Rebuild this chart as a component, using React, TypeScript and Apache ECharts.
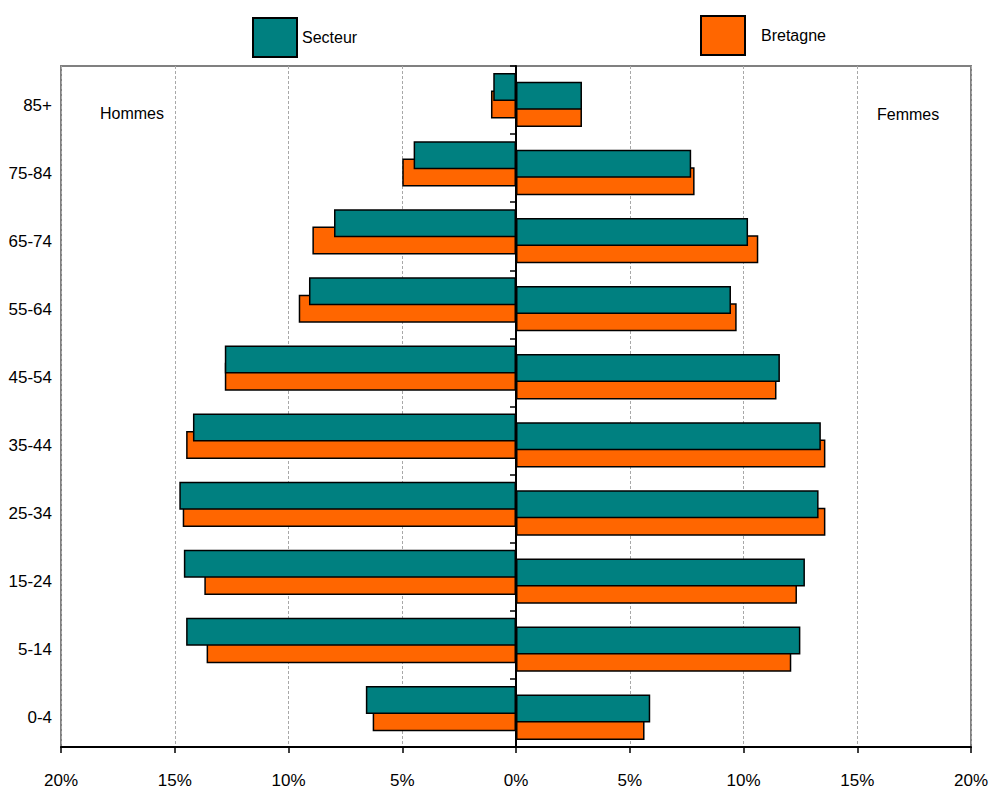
import React, { useEffect, useRef } from "react";
import * as echarts from "echarts";

const categories = ["0-4", "5-14", "15-24", "25-34", "35-44", "45-54", "55-64", "65-74", "75-84", "85+"];
const hommesSecteur = [6.6, 14.5, 14.6, 14.8, 14.2, 12.8, 9.1, 8.0, 4.5, 1.0];
const hommesBretagne = [6.3, 13.6, 13.7, 14.65, 14.5, 12.8, 9.55, 8.95, 5.0, 1.1];
const femmesSecteur = [5.9, 12.5, 12.7, 13.3, 13.4, 11.6, 9.45, 10.2, 7.7, 2.9];
const femmesBretagne = [5.65, 12.1, 12.35, 13.6, 13.6, 11.45, 9.7, 10.65, 7.85, 2.9];
const xTicks = [-20, -15, -10, -5, 0, 5, 10, 15, 20];

const TEAL = "#008080";
const ORANGE = "#FF6600";
const FONT = "'Liberation Sans', Arial, sans-serif";
const AXIS_FS = 17;
const TEXT_FS = 16;

export default function App() {
  const ref = useRef<HTMLDivElement>(null);
  useEffect(() => {
    if (!ref.current) return;
    const chart = echarts.init(ref.current, null, { renderer: "svg" });
    const barBase = {
      type: "bar" as const,
      barWidth: 28,
      barGap: "-69%",
      yAxisIndex: 0,
    };
    const teal = { color: TEAL, borderColor: "#000", borderWidth: 1.5 };
    const orange = { color: ORANGE, borderColor: "#000", borderWidth: 1.5 };
    chart.setOption({
      animation: false,
      textStyle: { fontFamily: FONT },
      legend: [
        {
          left: 247,
          top: 12,
          data: ["Secteur"],
          selectedMode: false,
          icon: "rect",
          itemWidth: 44,
          itemHeight: 39,
          textStyle: { fontSize: TEXT_FS, color: "#000", fontFamily: FONT },
        },
        {
          left: 695,
          top: 10,
          data: ["Bretagne"],
          selectedMode: false,
          icon: "rect",
          itemWidth: 44,
          itemHeight: 39,
          textStyle: { fontSize: TEXT_FS, color: "#000", fontFamily: FONT, padding: [0, 0, 0, 11] },
        },
      ],
      grid: {
        left: 61,
        right: 28,
        top: 66,
        bottom: 47,
        show: true,
        borderColor: "#808080",
        borderWidth: 2,
        backgroundColor: "transparent",
      },
      xAxis: {
        type: "value",
        min: -20,
        max: 20,
        interval: 5,
        axisLine: { show: true, onZero: false, lineStyle: { color: "#000", width: 2 } },
        axisTick: { show: true, length: 6, lineStyle: { color: "#000", width: 1.5 } },
        axisLabel: {
          fontSize: AXIS_FS,
          color: "#000",
          margin: 25,
          fontFamily: FONT,
          formatter: (v: number) => (xTicks.includes(v) ? Math.abs(v) + "%" : ""),
        },
        splitLine: { show: true, lineStyle: { color: "#a8a8a8", width: 1, type: [3, 2] } },
      },
      yAxis: [
        {
          type: "category",
          data: categories,
          position: "left",
          axisLine: { show: false, onZero: false },
          axisTick: { show: false },
          axisLabel: {
            fontSize: AXIS_FS,
            color: "#000",
            margin: 9,
            fontFamily: FONT,
            verticalAlign: "top",
            lineHeight: 10,
          },
        },
        {
          type: "category",
          data: categories,
          position: "left",
          axisLine: { show: true, onZero: true, lineStyle: { color: "#000", width: 2 } },
          axisTick: { show: true, inside: false, length: 6, lineStyle: { color: "#000", width: 1.5 } },
          axisLabel: { show: false },
        },
      ],
      graphic: [
        { type: "text", left: 100, top: 105, style: { text: "Hommes", font: `${TEXT_FS}px ${FONT}`, fill: "#000" } },
        { type: "text", left: 877, top: 106, style: { text: "Femmes", font: `${TEXT_FS}px ${FONT}`, fill: "#000" } },
      ],
      series: [
        { ...barBase, name: "Secteur", data: hommesSecteur.map((v) => -v), itemStyle: teal, z: 4 },
        { ...barBase, name: "Secteur", data: femmesSecteur, itemStyle: teal, z: 4 },
        { ...barBase, name: "Bretagne", data: hommesBretagne.map((v) => -v), itemStyle: orange, z: 3 },
        { ...barBase, name: "Bretagne", data: femmesBretagne, itemStyle: orange, z: 3 },
      ],
    });
    return () => chart.dispose();
  }, []);
  return <div ref={ref} style={{ width: 999, height: 794, position: "absolute", left: 0, top: 0 }} />;
}
